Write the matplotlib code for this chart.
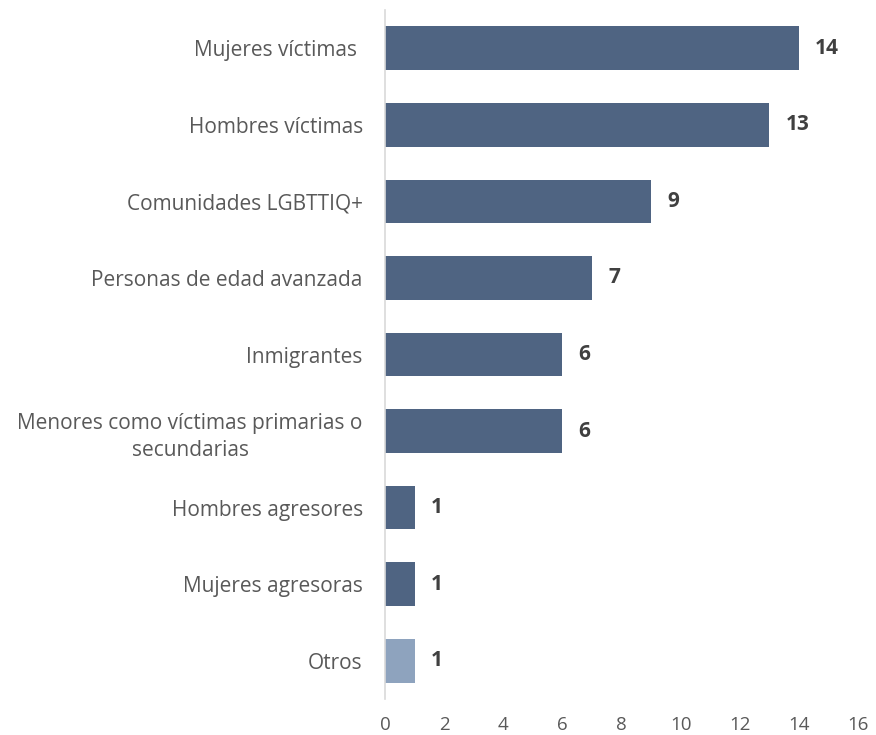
import matplotlib.pyplot as plt

plt.rcParams['font.family'] = ['Open Sans', 'DejaVu Sans']

categories = [
    "Mujeres víctimas ",
    "Hombres víctimas",
    "Comunidades LGBTTIQ+",
    "Personas de edad avanzada",
    "Inmigrantes",
    "Menores como víctimas primarias o\nsecundarias",
    "Hombres agresores",
    "Mujeres agresoras",
    "Otros",
]
values = [14, 13, 9, 7, 6, 6, 1, 1, 1]
colors = ["#4F6482"] * 8 + ["#8EA3BE"]

fig = plt.figure(figsize=(8.76, 7.35), dpi=100)
ax = fig.add_axes([385 / 876, 1 - 699 / 735, 473 / 876, 689 / 735])

pos = list(range(len(categories)))
ax.barh(pos, values, height=0.57, color=colors)
ax.set_ylim(len(categories) - 0.5, -0.5)
ax.set_xlim(0, 16)
ax.set_xticks(range(0, 17, 2))
ax.set_yticks(pos)
ax.set_yticklabels(categories, fontsize=15, color="#595959")
for lbl in ax.get_yticklabels():
    lbl.set_multialignment("center")
    lbl.set_linespacing(1.4)
ax.tick_params(axis="y", length=0, pad=16)
ax.tick_params(axis="x", length=0, labelsize=13.5, labelcolor="#595959", pad=12)

for s in ["top", "right", "bottom"]:
    ax.spines[s].set_visible(False)
ax.spines["left"].set_color("#D9D9D9")
ax.spines["left"].set_linewidth(1.2)

for y, v in zip(pos, values):
    ax.text(v + 0.55, y, str(v), va="center", ha="left", fontsize=15,
            fontweight="bold", color="#404040")

fig.savefig("out.png", dpi=100)
